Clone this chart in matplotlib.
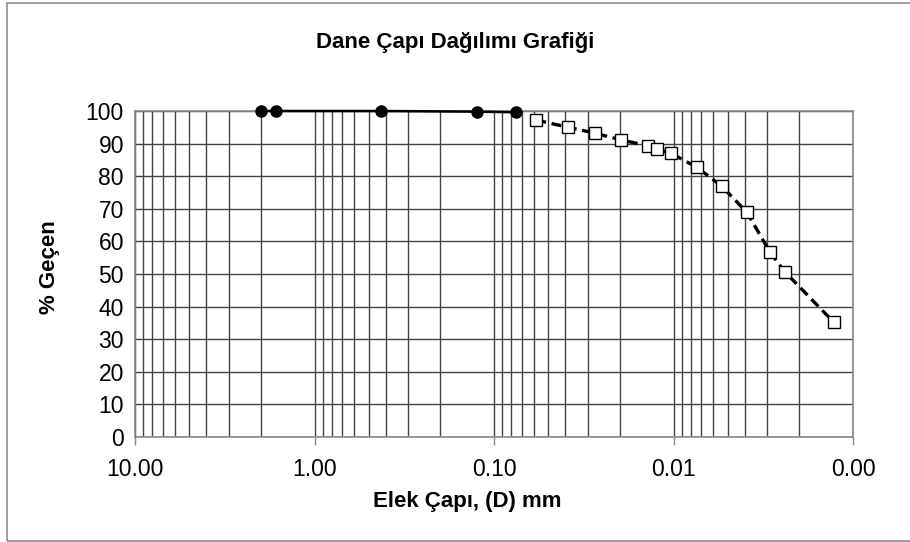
import matplotlib
matplotlib.use('Agg')
import matplotlib.pyplot as plt
from matplotlib.ticker import FixedLocator, FuncFormatter, LogLocator, NullFormatter
from matplotlib.patches import Rectangle

plt.rcParams['font.family'] = ['Liberation Sans', 'DejaVu Sans']

# Sieve analysis (elek analizi)
sieve_d = [2.0, 1.65, 0.425, 0.125, 0.075]
sieve_pass = [100, 100, 100, 99.8, 99.6]

# Hydrometer analysis (hidrometre)
hydro_d = [0.0582, 0.0385, 0.0274, 0.0195, 0.0138, 0.0124, 0.0103,
           0.0074, 0.0054, 0.0039, 0.0029, 0.0024, 0.00128]
hydro_pass = [97.2, 95.0, 93.2, 91.1, 89.3, 88.3, 87.0,
              82.7, 77.0, 68.9, 56.7, 50.7, 35.2]

x_major = [10, 1, 0.1, 0.01, 0.001]
y_major = list(range(0, 101, 10))

fig = plt.figure(figsize=(9.1, 5.42), dpi=100)
ax = fig.add_axes([0.1484, 0.1937, 0.7890, 0.6015])

# Outer chart border
fig.patches.append(Rectangle((7 / 910, 1.5 / 542), 1.0, 538 / 542,
                             transform=fig.transFigure, fill=False,
                             edgecolor='#8c8c8c', linewidth=1.2))

ax.set_xscale('log')
ax.set_xlim(10, 0.001)
ax.set_ylim(0, 100)

# Grid: every decade plus 2..9 minor lines
ax.xaxis.set_major_locator(FixedLocator(x_major))
ax.xaxis.set_minor_locator(LogLocator(base=10, subs=range(2, 10)))
ax.xaxis.set_major_formatter(FuncFormatter(lambda v, p: f'{v:.2f}'))
ax.xaxis.set_minor_formatter(NullFormatter())
ax.yaxis.set_major_locator(FixedLocator(y_major))

ax.grid(which='major', axis='both', color='#444444', linewidth=1.0)
ax.grid(which='minor', axis='x', color='#444444', linewidth=1.0)
ax.set_axisbelow(True)

ax.tick_params(axis='x', which='major', length=6, width=1, color='#888888',
               labelsize=16.5, pad=9)
ax.tick_params(axis='x', which='minor', length=0)
ax.tick_params(axis='y', length=0, labelsize=16.5, pad=8)

for s in ax.spines.values():
    s.set_color('#888888')
    s.set_linewidth(1.2)

ax.plot(sieve_d, sieve_pass, color='black', linewidth=1.8, marker='o',
        markersize=8, zorder=4, clip_on=False)
ax.plot(hydro_d, hydro_pass, color='black', linewidth=2.4, linestyle=(0, (3, 1.7)),
        marker='s', markersize=8, markerfacecolor='white',
        markeredgecolor='black', markeredgewidth=1.0, zorder=4, clip_on=False)

# Titles placed like the original spreadsheet chart
fig.text(0.5, 1 - 42 / 542, 'Dane Çapı Dağılımı Grafiği',
         ha='center', va='center', fontsize=16, fontweight='bold')
fig.text(467 / 910, 1 - 502 / 542, 'Elek Çapı, (D) mm',
         ha='center', va='center', fontsize=16, fontweight='bold')
fig.text(50 / 910, 1 - 267 / 542, '% Geçen', rotation=90,
         ha='center', va='center', fontsize=16, fontweight='bold')

fig.savefig('out.png', dpi=100)
